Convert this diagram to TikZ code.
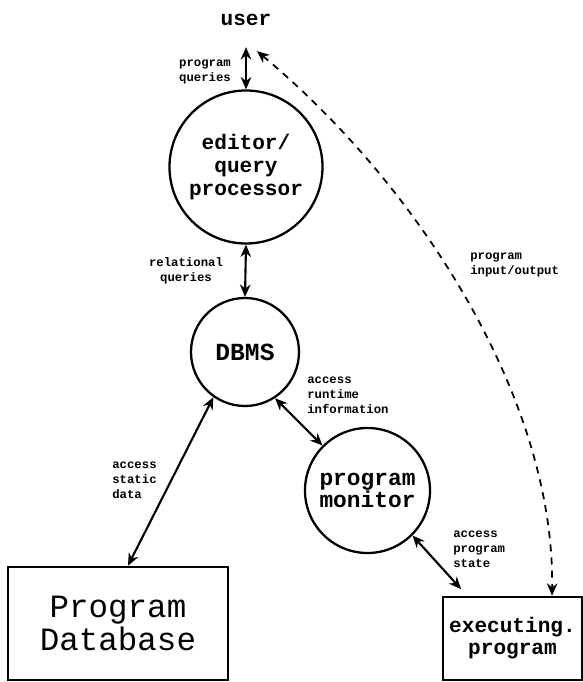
\documentclass[tikz,border=0pt]{standalone}
\usepackage{fontspec}
\setmonofont{Liberation Mono}
\usetikzlibrary{arrows.meta}

\tikzset{
  bubble/.style={draw, circle, line width=1.3pt, inner sep=0pt, align=center},
  store/.style={draw, rectangle, line width=1.5pt, inner sep=0pt, align=center},
  flow/.style={{Stealth[length=7pt,width=6pt]}-{Stealth[length=7pt,width=6pt]}, line width=1.2pt},
  tag/.style={font=\ttfamily\bfseries\fontsize{7}{8.5}\selectfont, inner sep=0pt}
}

\begin{document}
\begin{tikzpicture}
\useasboundingbox (0,0) rectangle (11.66,13.64);
%\draw [help lines] (0,0) grid (11,13);
\node [inner sep=0pt, font=\ttfamily\bfseries\fontsize{12}{12}\selectfont] (user) at (4.92,13.24) {user};
\node [bubble, minimum size=3.06cm, font=\ttfamily\bfseries\fontsize{12}{13}\selectfont] (editor) at (4.92,10.30) {editor/\\query\\processor};
\node [bubble, minimum size=2.16cm, font=\ttfamily\bfseries\fontsize{14}{14}\selectfont] (dbms) at (4.90,6.60) {DBMS};
\node [bubble, minimum size=2.50cm, font=\ttfamily\bfseries\fontsize{13}{13}\selectfont] (monitor) at (7.35,3.83) {program\\monitor};
\node [store, minimum width=4.40cm, minimum height=2.26cm, font=\ttfamily\fontsize{18.5}{18.5}\selectfont] (db) at (2.36,1.17) {Program\\Database};
\node [store, minimum width=2.78cm, minimum height=1.66cm, font=\ttfamily\bfseries\fontsize{12}{12.5}\selectfont] (exec) at (10.25,0.87) {executing.\\program};

\draw [flow, shorten <=12pt] (user.south) -- (editor.north);
\draw [flow] (editor.south) -- (dbms.north);
\draw [flow] (dbms.235) -- ([xshift=0.2cm]db.north);
\draw [flow] (dbms.303) -- (monitor.135);
\draw [flow, shorten >=5pt] (monitor.315) -- ([xshift=-0.91cm]exec.north);
\draw [flow, line width=1pt, dash pattern=on 4pt off 3.5pt] ([xshift=0.22cm,yshift=-0.5cm]user.south)
  .. controls (8.40,9.90) and (11.10,5.64) .. ([xshift=0.79cm]exec.north);

\node [tag, align=center] (q1) at (4.10,12.20) {program\\queries};
\node [tag, align=center] (q2) at (3.72,8.22) {relational\\queries};
\node [tag, align=left, anchor=west] (q3) at (6.14,5.74) {access\\runtime\\information};
\node [tag, align=left, anchor=west] (q4) at (2.24,4.04) {access\\static\\data};
\node [tag, align=left, anchor=west] (q5) at (9.40,8.34) {program\\input/output};
\node [tag, align=left, anchor=west] (q6) at (9.06,2.66) {access\\program\\state};
\end{tikzpicture}
\end{document}
